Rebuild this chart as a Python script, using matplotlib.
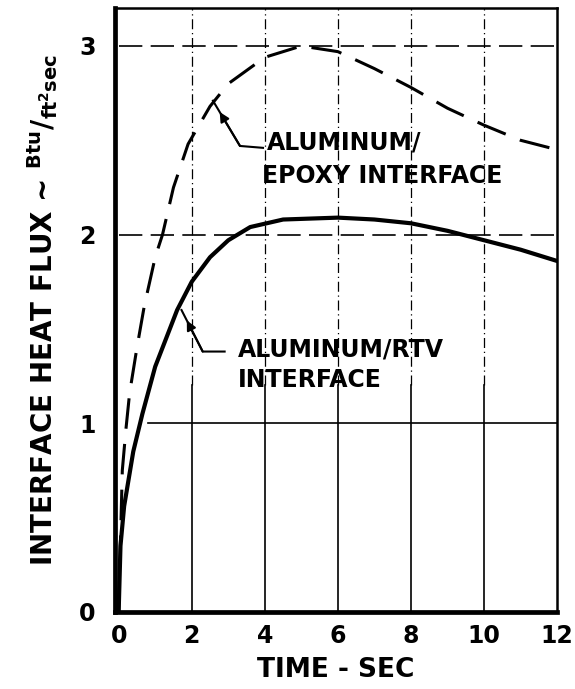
import matplotlib
matplotlib.use('Agg')

import matplotlib.pyplot as plt

# curve values
time_epoxy = [0, 0.1, 0.2, 0.3, 0.5, 0.7, 1.0, 1.2, 1.5, 1.9, 2.5, 3.0, 4.0, 5.0,
              6.0, 7.0, 8.0, 9.0, 10.0, 11.0, 12.0]
flux_epoxy = [0, 0.75, 0.97, 1.16, 1.4, 1.62, 1.88, 2.0, 2.25, 2.48, 2.68, 2.8,
              2.94, 3.0, 2.97, 2.88, 2.78, 2.67, 2.58, 2.5, 2.45]

time_rtv = [0, 0.05, 0.15, 0.4, 0.65, 1.0, 1.6, 2.0, 2.5, 3.0, 3.6, 4.5, 6.0,
            7.0, 8.0, 9.0, 10.0, 11.0, 12.0]
flux_rtv = [0, 0.35, 0.56, 0.85, 1.05, 1.3, 1.6, 1.75, 1.88, 1.97, 2.04, 2.08,
            2.09, 2.08, 2.06, 2.02, 1.97, 1.92, 1.86]

x_ticks = [0, 2, 4, 6, 8, 10, 12]
y_ticks = [0, 1, 2, 3]
x_tick_labels = ['0', '2', '4', '6', '8', '10', '12']
y_tick_labels = ['0', '1', '2', '3']

# leader lines: text end -> bend -> tip on the curve
epoxy_leader_x = [3.95, 3.32, 2.58]
epoxy_leader_y = [2.46, 2.47, 2.71]
rtv_leader_x = [2.9, 2.3, 1.72]
rtv_leader_y = [1.38, 1.38, 1.6]

plt.rcParams['font.family'] = ['DejaVu Sans']
plt.rcParams['font.weight'] = 'bold'

fig = plt.figure(figsize=(5.75, 6.89), dpi=100)
ax = fig.add_axes([0.2, 0.112, 0.769, 0.876])
ax.set_xlim(-0.1, 12)
ax.set_ylim(0, 3.2)

# grid: lower part of the verticals solid, upper part broken
for xv in x_ticks[1:-1]:
    ax.plot([xv, xv], [0, 1.2], color='k', lw=1.2, zorder=1)
    ax.plot([xv, xv], [1.2, 3.2], color='k', lw=0.9, ls=(0, (8, 3, 1, 3)), zorder=1)
ax.plot([0.8, 12], [1, 1], color='k', lw=1.2, zorder=1)
for yv in [2, 3]:
    ax.plot([0, 12], [yv, yv], color='k', lw=1.2, ls=(0, (14, 5)), zorder=1)

ax.plot(time_epoxy, flux_epoxy, color='k', lw=2.2, ls=(0, (10, 5)), zorder=3)
ax.plot(time_rtv, flux_rtv, color='k', lw=3.0, zorder=3)

arrow = dict(arrowstyle='-|>', color='k', lw=1.5, mutation_scale=14,
             shrinkA=0, shrinkB=0)
for lx, ly in [(epoxy_leader_x, epoxy_leader_y), (rtv_leader_x, rtv_leader_y)]:
    ax.plot(lx, ly, color='k', lw=1.5, zorder=4)
    head_x = lx[1] + 0.75 * (lx[2] - lx[1])
    head_y = ly[1] + 0.75 * (ly[2] - ly[1])
    ax.annotate('', xy=(head_x, head_y), xytext=(lx[1], ly[1]), arrowprops=arrow)

ax.text(4.05, 2.49, 'ALUMINUM/', fontsize=17, fontweight='bold', va='center')
ax.text(3.92, 2.31, 'EPOXY INTERFACE', fontsize=17, fontweight='bold', va='center')
ax.text(3.26, 1.39, 'ALUMINUM/RTV', fontsize=17, fontweight='bold', va='center')
ax.text(3.26, 1.23, 'INTERFACE', fontsize=17, fontweight='bold', va='center')

ax.set_xticks(x_ticks)
ax.set_xticklabels(x_tick_labels, fontsize=17, fontweight='bold')
ax.set_yticks(y_ticks)
ax.set_yticklabels(y_tick_labels, fontsize=17, fontweight='bold')
ax.tick_params(length=0)
ax.tick_params(axis='x', pad=9)
ax.tick_params(axis='y', pad=14)

for side in ['left', 'bottom']:
    ax.spines[side].set_linewidth(3.4)
for side in ['top', 'right']:
    ax.spines[side].set_linewidth(1.8)

ax.set_xlabel('TIME - SEC', fontsize=19, fontweight='bold', labelpad=6)
ax.set_ylabel('INTERFACE HEAT FLUX ~ $\\mathbf{^{Btu}/_{ft^2 sec}}$',
              fontsize=20, fontweight='bold', labelpad=14)

fig.savefig('out.png', dpi=100)
